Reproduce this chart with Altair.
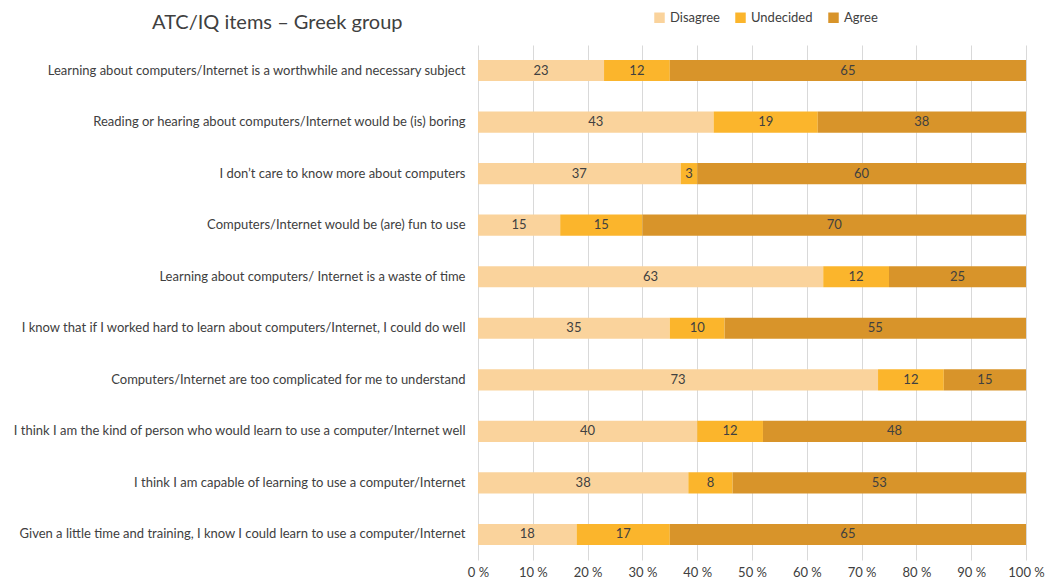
import altair as alt
import pandas as pd

items = [
    "Learning about computers/Internet is a worthwhile and necessary subject",
    "Reading or hearing about computers/Internet would be (is) boring",
    "I don\u2019t care to know more about computers",
    "Computers/Internet would be (are) fun to use",
    "Learning about computers/ Internet is a waste of time",
    "I know that if I worked hard to learn about computers/Internet, I could do well",
    "Computers/Internet are too complicated for me to understand",
    "I think I am the kind of person who would learn to use a computer/Internet well",
    "I think I am capable of learning to use a computer/Internet",
    "Given a little time and training, I know I could learn to use a computer/Internet",
]
disagree = [23, 43, 37, 15, 63, 35, 73, 40, 38, 18]
undecided = [12, 19, 3, 15, 12, 10, 12, 12, 8, 17]
agree = [65, 38, 60, 70, 25, 55, 15, 48, 53, 65]

categories = ["Disagree", "Undecided", "Agree"]
colors = ["#FAD39C", "#FBB52C", "#D8942A"]

rows = []
for i, it in enumerate(items):
    for k, (cat, vals) in enumerate(zip(categories, [disagree, undecided, agree])):
        rows.append({"item": it, "category": cat, "order": k, "value": vals[i]})
df = pd.DataFrame(rows)

FONT = "Lato"
TXT = "#404040"

base = alt.Chart(df).transform_joinaggregate(
    total="sum(value)", groupby=["item"]
).transform_calculate(
    pct="datum.value / datum.total * 100"
).transform_stack(
    stack="pct", groupby=["item"], as_=["x0", "x1"], sort=[alt.SortField("order")]
).transform_calculate(
    mid="(datum.x0 + datum.x1) / 2"
)

y_enc = alt.Y(
    "item:N", sort=items, title=None,
    scale=alt.Scale(paddingInner=0.59, paddingOuter=0.29),
    axis=alt.Axis(ticks=False, domain=False, labelPadding=13, labelLimit=600,
                  labelFontSize=13, labelColor=TXT, labelFont=FONT),
)

bars = base.mark_bar().encode(
    x=alt.X("x0:Q", scale=alt.Scale(domain=[0, 100]), title=None,
            axis=alt.Axis(values=list(range(0, 101, 10)), labelExpr="datum.value + ' %'",
                          ticks=False, domain=False, grid=True, gridColor="#D9D9D9",
                          labelFlush=False, labelPadding=6, labelFontSize=13,
                          labelColor=TXT, labelFont=FONT)),
    x2="x1:Q",
    y=y_enc,
    color=alt.Color("category:N", sort=categories,
                    scale=alt.Scale(domain=categories, range=colors),
                    legend=alt.Legend(title=None, orient="none", direction="horizontal",
                                      legendX=175, legendY=-34, symbolType="square",
                                      symbolSize=110, symbolStrokeWidth=0,
                                      labelFontSize=13, labelColor=TXT, labelFont=FONT,
                                      columnPadding=14)),
    order=alt.Order("order:Q"),
)

labels = base.mark_text(fontSize=13, color=TXT, font=FONT).encode(
    x=alt.X("mid:Q"),
    y=alt.Y("item:N", sort=items),
    text=alt.Text("value:Q"),
)

chart = alt.layer(bars, labels).properties(
    width=548, height=515,
    padding={"left": 470, "top": 37, "right": 19, "bottom": 18},
    autosize=alt.AutoSizeParams(type="none"),
    title=alt.TitleParams("ATC/IQ items \u2013 Greek group", anchor="start", frame="group",
                          dx=-326, dy=36, offset=14, fontSize=20, fontWeight="normal",
                          font=FONT, color=TXT),
).configure_view(stroke=None)

chart.save("out.html", embed_options={"renderer": "svg", "actions": False})
